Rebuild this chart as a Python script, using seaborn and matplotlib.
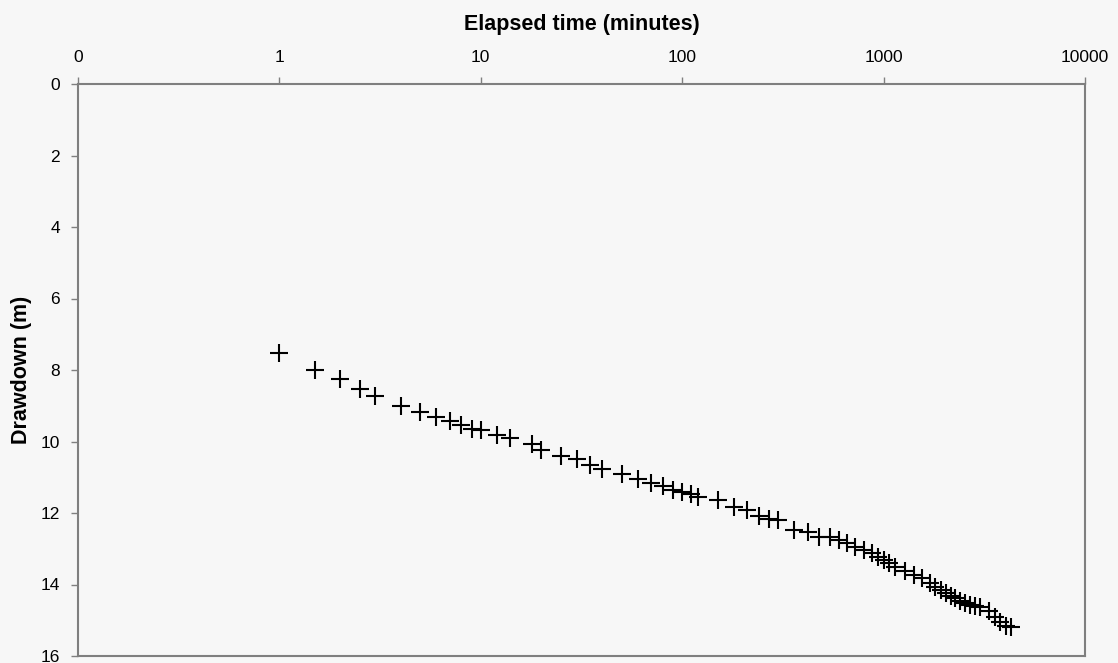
import matplotlib
matplotlib.use("Agg")
import matplotlib.pyplot as plt
import matplotlib.ticker as mticker
import seaborn as sns
import pandas as pd

# Data
elapsed_min = [1, 1.5, 2, 2.5, 3, 4, 5, 6, 7, 8, 9, 10, 12, 14, 18, 20,
               25, 30, 35, 40, 50, 60, 70, 80, 90, 100, 110, 120, 150, 180,
               210, 240, 270, 300, 360, 420, 480, 540, 600, 660, 720, 800,
               880, 940, 1000, 1060, 1140, 1280, 1410, 1550, 1700, 1800,
               1920, 2030, 2150, 2270, 2400, 2530, 2680, 2830, 3000, 3320,
               3590, 3800, 4070, 4270]
drawdown_m = [7.52, 8.0, 8.26, 8.54, 8.73, 9.01, 9.17, 9.31, 9.42, 9.54,
              9.64, 9.68, 9.82, 9.89, 10.07, 10.24, 10.40, 10.49, 10.65,
              10.77, 10.90, 11.06, 11.15, 11.25, 11.37, 11.42, 11.48, 11.56,
              11.65, 11.83, 11.92, 12.08, 12.17, 12.20, 12.47, 12.52, 12.66,
              12.66, 12.75, 12.83, 12.94, 13.03, 13.13, 13.22, 13.31, 13.41,
              13.50, 13.62, 13.73, 13.83, 13.95, 14.06, 14.15, 14.23, 14.32,
              14.38, 14.45, 14.51, 14.57, 14.59, 14.62, 14.73, 14.90, 15.04,
              15.16, 15.18]
x_ticks = [0.1, 1, 10, 100, 1000, 10000]
x_tick_labels = ["0", "1", "10", "100", "1000", "10000"]
y_ticks = [0, 2, 4, 6, 8, 10, 12, 14, 16]

df = pd.DataFrame({"t": elapsed_min, "s": drawdown_m})

sns.set_style("white")
plt.rcParams["font.family"] = ["Liberation Sans", "DejaVu Sans"]
plt.rcParams["text.color"] = "black"
plt.rcParams["axes.labelcolor"] = "black"

bg = "#f7f7f7"
fig = plt.figure(figsize=(11.18, 6.63), dpi=100, facecolor=bg)
ax = fig.add_axes([78 / 1118, 1 - 656 / 663, (1085 - 78) / 1118, (656 - 84) / 663])
ax.set_facecolor(bg)

sns.scatterplot(data=df, x="t", y="s", marker="+", s=170, color="black",
                linewidth=1.5, ax=ax, legend=False)

ax.set_xscale("log")
ax.set_xlim(0.1, 10000)
ax.set_ylim(16, 0)
ax.xaxis.set_major_locator(mticker.FixedLocator(x_ticks))
ax.xaxis.set_major_formatter(mticker.FixedFormatter(x_tick_labels))
ax.xaxis.set_minor_locator(mticker.NullLocator())
ax.set_yticks(y_ticks)
ax.yaxis.set_minor_locator(mticker.NullLocator())

ax.xaxis.tick_top()
ax.xaxis.set_label_position("top")
ax.tick_params(axis="x", which="major", direction="out", length=5, width=1,
               color="#808080", labelsize=12.5, pad=9, labelcolor="black")
ax.tick_params(axis="y", which="major", direction="out", length=5, width=1,
               color="#808080", labelsize=12.5, pad=8, left=True, labelcolor="black")

for side in ["top", "bottom", "left", "right"]:
    ax.spines[side].set_visible(True)
    ax.spines[side].set_color("#7f7f7f")
    ax.spines[side].set_linewidth(1.5)

ax.set_xlabel("Elapsed time (minutes)", fontsize=15.5, fontweight="bold",
              labelpad=14, color="black")
ax.set_ylabel("Drawdown (m)", fontsize=15.5, fontweight="bold",
              labelpad=6, color="black")

fig.savefig("out.png", dpi=100, facecolor=bg)
